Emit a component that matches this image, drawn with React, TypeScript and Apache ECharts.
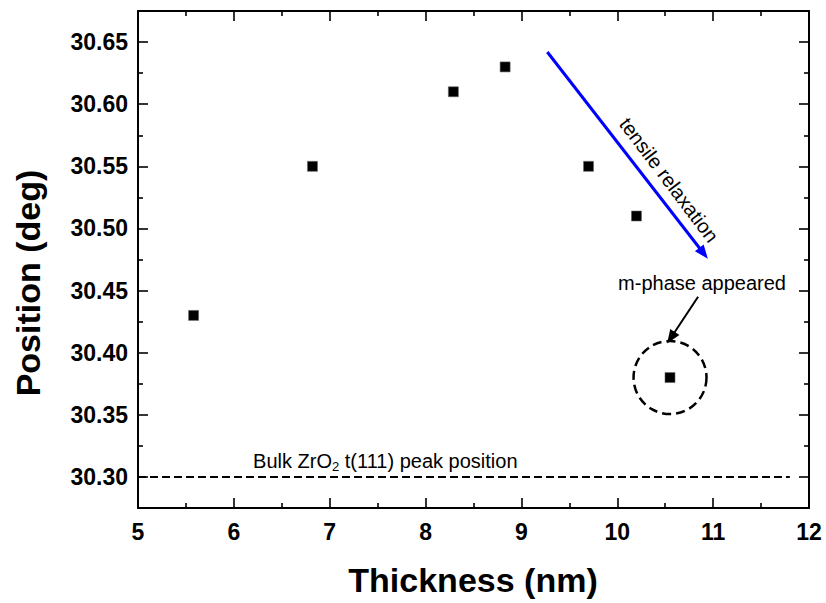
import React, { useEffect, useRef } from "react";
import * as echarts from "echarts";

// ---- data ----
const thickness = [5.58, 6.82, 8.29, 8.83, 9.7, 10.2, 10.55];
const position = [30.43, 30.55, 30.61, 30.63, 30.55, 30.51, 30.38];
const xMin = 5;
const xMax = 12;
const xInterval = 1;
const yMin = 30.275;
const yMax = 30.675;
const yMajorTicks = [30.3, 30.35, 30.4, 30.45, 30.5, 30.55, 30.6, 30.65];
const yMinorTicks = [30.325, 30.375, 30.425, 30.475, 30.525, 30.575, 30.625];
const bulkPeak = 30.3;
const bulkLineX = [5, 11.8];
const relaxArrowStart = [9.27, 30.642];
const relaxArrowEnd = [10.9, 30.48];
const mPhaseArrowStart = [10.843, 30.445];
const mPhaseArrowEnd = [10.56, 30.412];
const mPhaseIndex = 6;
const relaxLabelAt = [10.54, 30.539];
const mPhaseLabelAt = [10.884, 30.456];
const bulkLabelAt = [7.58, 30.313];

const FONT = "'Liberation Sans', Arial, Helvetica, sans-serif";

export default function App() {
  const ref = useRef<HTMLDivElement>(null);

  useEffect(() => {
    if (!ref.current) return;
    const chart = echarts.init(ref.current, null, { renderer: "svg" });

    const lineStyle = { color: "#000", width: 2 };
    const tickStyle = { color: "#000", width: 1.6 };
    const axisLine = { show: true, onZero: false, lineStyle };
    const labelStyle = {
      fontSize: 23,
      fontWeight: "bold" as const,
      color: "#000",
      fontFamily: FONT,
    };

    const xAxisBase = {
      type: "value" as const,
      min: xMin,
      max: xMax,
      interval: xInterval,
      axisLine,
      axisTick: { show: true, inside: true, length: 10, lineStyle: tickStyle },
      minorTick: { show: true, splitNumber: 2, length: 5, lineStyle: tickStyle },
      splitLine: { show: false },
      minorSplitLine: { show: false },
    };

    const yMajor = (pos: "left" | "right", labels: boolean) => ({
      type: "value" as const,
      position: pos,
      min: yMin,
      max: yMax,
      axisLine,
      axisTick: {
        show: true,
        inside: true,
        length: 10,
        lineStyle: tickStyle,
        customValues: yMajorTicks,
      },
      axisLabel: labels
        ? {
            ...labelStyle,
            margin: 10,
            customValues: yMajorTicks,
            formatter: (v: number) => v.toFixed(2),
          }
        : { show: false },
      splitLine: { show: false },
    });
    const yMinor = (pos: "left" | "right") => ({
      type: "value" as const,
      position: pos,
      min: yMin,
      max: yMax,
      axisLine: { show: false },
      axisTick: {
        show: true,
        inside: true,
        length: 5,
        lineStyle: tickStyle,
        customValues: yMinorTicks,
      },
      axisLabel: { show: false },
      splitLine: { show: false },
    });

    const points = thickness.map((x, i) => [x, position[i]]);

    const option: any = {
      animation: false,
      grid: { left: 138, top: 11, width: 671, height: 497, containLabel: false },
      xAxis: [
        {
          ...xAxisBase,
          position: "bottom",
          axisLabel: { ...labelStyle, margin: 12 },
        },
        {
          ...xAxisBase,
          position: "top",
          axisLabel: { show: false },
        },
      ],
      yAxis: [yMajor("left", true), yMinor("left"), yMajor("right", false), yMinor("right")],
      series: [
        {
          type: "scatter",
          name: "circle",
          data: [[thickness[mPhaseIndex], position[mPhaseIndex]]],
          symbol: "circle",
          symbolSize: 73,
          silent: true,
          z: 2,
          itemStyle: {
            color: "rgba(0,0,0,0)",
            borderColor: "#000",
            borderWidth: 2.5,
            borderType: [9, 5],
            opacity: 1,
          },
        },
        {
          type: "scatter",
          name: "bulk",
          data: [],
          silent: true,
          markLine: {
            silent: true,
            symbol: ["none", "none"],
            label: { show: false },
            lineStyle: { color: "#000", width: 2, type: [8, 4] },
            data: [[{ coord: [bulkLineX[0], bulkPeak] }, { coord: [bulkLineX[1], bulkPeak] }]],
          },
        },
        {
          type: "scatter",
          name: "relax",
          data: [],
          silent: true,
          markLine: {
            silent: true,
            symbol: ["none", "triangle"],
            symbolSize: [11, 14],
            label: { show: false },
            lineStyle: { color: "#0000ff", width: 3, type: "solid" },
            itemStyle: { color: "#0000ff" },
            data: [[{ coord: relaxArrowStart }, { coord: relaxArrowEnd }]],
          },
        },
        {
          type: "scatter",
          name: "mphase",
          data: [],
          silent: true,
          markLine: {
            silent: true,
            symbol: ["none", "triangle"],
            symbolSize: [11, 14],
            label: { show: false },
            lineStyle: { color: "#000", width: 2, type: "solid" },
            itemStyle: { color: "#000" },
            data: [[{ coord: mPhaseArrowStart }, { coord: mPhaseArrowEnd }]],
          },
        },
        {
          type: "scatter",
          name: "Position",
          data: points,
          symbol: "rect",
          symbolSize: 10,
          z: 5,
          itemStyle: { color: "#000", borderColor: "#666", borderWidth: 0.6, opacity: 1 },
        },
      ],
    };
    chart.setOption(option);

    const px = (p: number[]) =>
      chart.convertToPixel({ xAxisIndex: 0, yAxisIndex: 0 }, p) as number[];
    const relaxPx = px(relaxLabelAt);
    const mPx = px(mPhaseLabelAt);
    const bulkPx = px(bulkLabelAt);

    chart.setOption({
      graphic: [
        {
          type: "text",
          x: relaxPx[0],
          y: relaxPx[1],
          rotation: (-53 * Math.PI) / 180,
          style: {
            text: "tensile relaxation",
            fontSize: 20,
            fontFamily: FONT,
            fill: "#000",
            align: "center",
            verticalAlign: "middle",
          },
        },
        {
          type: "text",
          x: mPx[0],
          y: mPx[1],
          style: {
            text: "m-phase appeared",
            fontSize: 20,
            fontFamily: FONT,
            fill: "#000",
            align: "center",
            verticalAlign: "middle",
          },
        },
        {
          type: "text",
          x: bulkPx[0],
          y: bulkPx[1],
          style: {
            text: "{a|Bulk ZrO}{s|2}{a| t(111) peak position}",
            fontFamily: FONT,
            fill: "#000",
            align: "center",
            verticalAlign: "middle",
            rich: {
              a: { fontSize: 20, fontFamily: FONT, fill: "#000", lineHeight: 22 },
              s: {
                fontSize: 13,
                fontFamily: FONT,
                fill: "#000",
                lineHeight: 22,
                padding: [12, 0, 0, 0],
              },
            },
          },
        },
        {
          type: "text",
          x: 473,
          y: 580,
          style: {
            text: "Thickness (nm)",
            fontSize: 34,
            fontWeight: "bold",
            fontFamily: FONT,
            fill: "#000",
            align: "center",
            verticalAlign: "middle",
          },
        },
        {
          type: "text",
          x: 28,
          y: 283,
          rotation: Math.PI / 2,
          style: {
            text: "Position (deg)",
            fontSize: 34,
            fontWeight: "bold",
            fontFamily: FONT,
            fill: "#000",
            align: "center",
            verticalAlign: "middle",
          },
        },
      ],
    });

    return () => chart.dispose();
  }, []);

  return (
    <div
      ref={ref}
      style={{ position: "fixed", left: 0, top: 0, width: 826, height: 603, background: "#fff" }}
    />
  );
}
